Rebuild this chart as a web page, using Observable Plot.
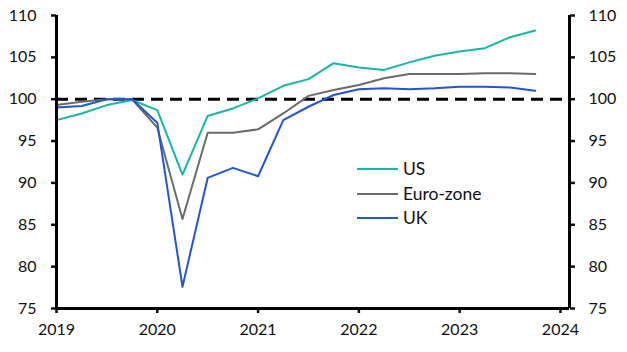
<!DOCTYPE html>
<html>
<head>
<meta charset="utf-8">
<script src="https://cdn.jsdelivr.net/npm/d3@7"></script>
<script src="https://cdn.jsdelivr.net/npm/@observablehq/plot@0.6"></script>
<style>
  html, body { margin: 0; padding: 0; background: #fff; }
  #wrap { position: relative; width: 627px; height: 352px; font-family: Lato, "Open Sans", sans-serif; }
  #legend { position: absolute; left: 357px; top: 157px; font-size: 17.5px; color: #111; line-height: 24.5px; }
  #legend .row { display: flex; align-items: center; }
  #legend .sw { width: 41px; height: 2px; margin-right: 5px; }
</style>
</head>
<body>
<div id="wrap"><div id="legend"></div></div>
<script>
const quarters = ["2019Q1","2019Q2","2019Q3","2019Q4","2020Q1","2020Q2","2020Q3","2020Q4",
  "2021Q1","2021Q2","2021Q3","2021Q4","2022Q1","2022Q2","2022Q3","2022Q4",
  "2023Q1","2023Q2","2023Q3","2023Q4"];
const us = [97.5, 98.3, 99.3, 99.9, 98.7, 91.0, 98.0, 98.9, 100.1, 101.6, 102.4, 104.3,
  103.8, 103.5, 104.4, 105.2, 105.7, 106.1, 107.4, 108.2];
const euroZone = [99.3, 99.7, 100.0, 100.0, 96.6, 85.7, 96.0, 96.0, 96.4, 98.3, 100.4, 101.1,
  101.7, 102.5, 103.0, 103.0, 103.0, 103.1, 103.1, 103.0];
const uk = [99.0, 99.2, 100.0, 100.0, 97.2, 77.6, 90.6, 91.8, 90.8, 97.5, 99.1, 100.5,
  101.2, 101.3, 101.2, 101.3, 101.5, 101.5, 101.4, 101.0];
const seriesNames = ["US", "Euro-zone", "UK"];
const seriesColors = ["#19b5a5", "#6b6b6b", "#2356d2"];
const yTicks = [75, 80, 85, 90, 95, 100, 105, 110];
const xTicks = [2019, 2020, 2021, 2022, 2023, 2024];
const baseline = 100;

const toYear = q => +q.slice(0, 4) + (+q.slice(5) - 1) / 4;
const allSeries = [us, euroZone, uk];
const data = [];
seriesNames.forEach((name, i) => {
  quarters.forEach((q, j) => data.push({series: name, x: toYear(q), y: allSeries[i][j]}));
});
const xDomain = [2019, 2024.09];
const yDomain = [75, 110];

const chart = Plot.plot({
  width: 627,
  height: 352,
  marginLeft: 56,
  marginRight: 58,
  marginTop: 15,
  marginBottom: 44,
  style: {fontFamily: "Lato, 'Open Sans', sans-serif", fontSize: "16px", color: "#111", background: "#fff"},
  x: {domain: xDomain, ticks: xTicks, tickFormat: d => String(d)},
  y: {domain: yDomain, ticks: yTicks},
  color: {domain: seriesNames, range: seriesColors},
  marks: [
    Plot.axisX({ticks: xTicks, tickFormat: d => String(d), tickSize: 5, tickPadding: 10, strokeWidth: 2.5, label: null}),
    Plot.axisY({ticks: yTicks, anchor: "left", tickSize: 5, tickPadding: 15, strokeWidth: 2.5, label: null}),
    Plot.axisY({ticks: yTicks, anchor: "right", tickSize: 5, tickPadding: 14, strokeWidth: 2.5, label: null}),
    Plot.ruleY([baseline], {stroke: "#000", strokeWidth: 3, strokeDasharray: "12,7"}),
    Plot.line(data, {x: "x", y: "y", z: "series", stroke: "series", strokeWidth: 2}),
    Plot.ruleX([xDomain[0], xDomain[1]], {stroke: "#000", strokeWidth: 3}),
    Plot.ruleY([yDomain[0]], {stroke: "#000", strokeWidth: 3})
  ]
});
document.getElementById("wrap").prepend(chart);

const legend = document.getElementById("legend");
seriesNames.forEach((n, i) => {
  const row = document.createElement("div");
  row.className = "row";
  row.innerHTML = `<span class="sw" style="background:${seriesColors[i]}"></span><span>${n}</span>`;
  legend.appendChild(row);
});
</script>
</body>
</html>
